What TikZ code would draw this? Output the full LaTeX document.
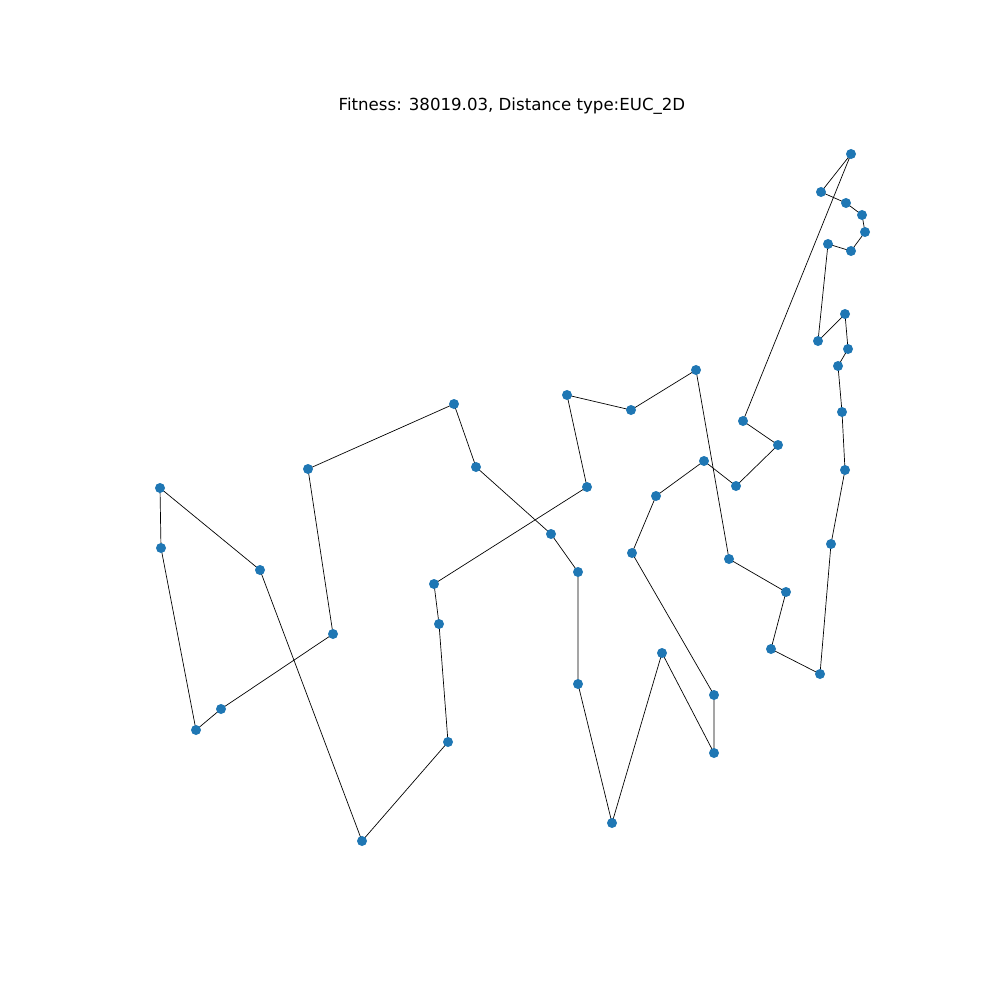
\documentclass[tikz,border=0pt]{standalone}
\usepackage{fontspec}
\setmainfont{DejaVu Sans}
\definecolor{mplblue}{HTML}{1F77B4}
\begin{document}
\begin{tikzpicture}[x=0.01in,y=-0.01in,
  city/.style={circle,fill=mplblue,inner sep=0pt,minimum size=0.1in},
  edge/.style={black,line width=0.5pt}]
\useasboundingbox (0,0) rectangle (1000,1000);
\node[font=\fontsize{12}{14}\selectfont] (title) at (512,106) {Fitness: 38019.03, Distance type:EUC\_2D};
\foreach \n/\x/\y in {
 a1/851/154, a2/821/192, a3/846/203, a4/862/215, a5/865/232, a6/851/251, a7/828/244,
 a8/818/341, a9/845/314, a10/848/349, a11/838/366, a12/842/412, a13/845/470, a14/831/544,
 a15/820/674, a16/771/649, a17/786/592, a18/729/559, a19/696/370, a20/631/410, a21/567/395,
 a22/587/487, a23/434/584, a24/439/624, a25/448/742, a26/362/841, a27/260/570, a28/160/488,
 a29/161/548, a30/196/730, a31/221/709, a32/333/634, a33/308/469, a34/454/404, a35/476/467,
 a36/551/534, a37/578/572, a38/578/684, a39/612/823, a40/662/653, a41/714/753, a42/714/695,
 a43/632/553, a44/656/496, a45/704/461, a46/736/486, a47/778/445, a48/743/421}
  \coordinate (\n) at (\x,\y);
\draw[edge] (a1)--(a2)--(a3)--(a4)--(a5)--(a6)--(a7)--(a8)--(a9)--(a10)--(a11)--(a12)--(a13)--(a14)--(a15)--(a16)--(a17)--(a18)--(a19)--(a20)--(a21)--(a22)--(a23)--(a24)--(a25)--(a26)--(a27)--(a28)--(a29)--(a30)--(a31)--(a32)--(a33)--(a34)--(a35)--(a36)--(a37)--(a38)--(a39)--(a40)--(a41)--(a42)--(a43)--(a44)--(a45)--(a46)--(a47)--(a48)--(a1);
\foreach \n in {1,...,48} \node[city] (c\n) at (a\n) {};
\end{tikzpicture}
\end{document}
